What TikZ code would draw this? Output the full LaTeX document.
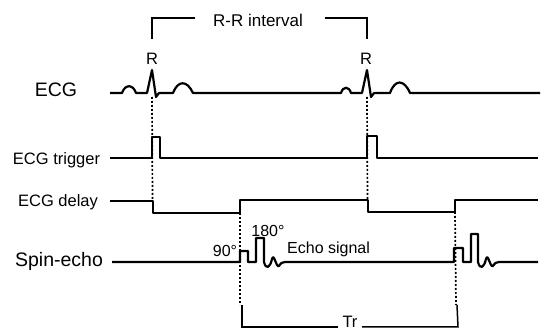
\documentclass[tikz,border=0pt]{standalone}
\usepackage{fontspec}
\setmainfont{Liberation Sans}
\begin{document}
\begin{tikzpicture}[x=1pt,y=-1pt,
  wave/.style={line width=2.2pt,line join=round},
  brk/.style={line width=1.5pt},
  dots/.style={line width=1.7pt,dash pattern=on 1.8pt off 2.2pt},
  lab/.style={inner sep=0pt,anchor=base}]
\useasboundingbox (0,0) rectangle (547,331);
% labels
\node[lab,font=\fontsize{19.5}{20}\selectfont] (lecg) at (56,97) {ECG};
\node[lab,font=\fontsize{16.5}{18}\selectfont] (ltrig) at (56.5,165) {ECG trigger};
\node[lab,font=\fontsize{16.5}{18}\selectfont] (ldel) at (58,207) {ECG delay};
\node[lab,font=\fontsize{19.5}{20}\selectfont] (lspin) at (59,267) {Spin-echo};
\node[lab,font=\fontsize{17}{18}\selectfont] (lrr) at (258,27) {R-R interval};
\node[lab,font=\fontsize{16.5}{18}\selectfont] (r1) at (152,65) {R};
\node[lab,font=\fontsize{16.5}{18}\selectfont] (r2) at (366,65) {R};
\node[lab,font=\fontsize{16}{18}\selectfont] (l90) at (225,257) {90°};
\node[lab,font=\fontsize{16}{18}\selectfont] (l180) at (268,237) {180°};
\node[lab,anchor=base west,font=\fontsize{16}{18}\selectfont] (lecho) at (287,254) {Echo signal};
\node[lab,font=\fontsize{16.5}{18}\selectfont] (ltr) at (350,328) {Tr};
% key coordinates
\coordinate (rp1) at (152,97);
\coordinate (rp2) at (367,97);
\coordinate (dd1) at (152.5,201);
\coordinate (dd2) at (367.5,200);
\coordinate (du1) at (240,213);
\coordinate (du2) at (455,212);
\coordinate (tl) at (242,305);
\coordinate (tr) at (457,305);
% ECG
\draw[wave] (110,93) -- (122,93) .. controls (125,84) and (133,84) .. (136,93)
  -- (147,93) -- (152,70) -- (156,97) -- (159,93) -- (173,93)
  .. controls (178,80) and (187,80) .. (193,93)
  -- (341,93) .. controls (343,86) and (349,86) .. (351,93)
  -- (362,93) -- (367,70) -- (371,97) -- (374,93) -- (390,93)
  .. controls (395,79) and (404,79) .. (410,93) -- (540,93);
% ECG trigger
\draw[wave] (110,158) -- (152,158) -- (152,137) -- (160,137) -- (160,158)
  -- (367,158) -- (367,136) -- (377,136) -- (377,158) -- (538,158);
% ECG delay
\draw[wave] (110,201) -- (153,201) -- (153,213) -- (240,213) -- (240,200)
  -- (368,200) -- (368,212) -- (455,212) -- (455,200) -- (538,200);
% Spin-echo
\draw[wave] (112,262) -- (240,262) -- (240,251) -- (248,251) -- (248,262)
  -- (256,262) -- (256,238) -- (264,238) -- (264,262)
  .. controls (266,270) and (270,268) .. (272,259)
  .. controls (274,252) and (276,268) .. (279,266)
  .. controls (281,263) and (282,262) .. (285,262)
  -- (454,262) -- (454,248) -- (463,248) -- (463,262)
  -- (471,262) -- (471,234) -- (478,234) -- (478,262)
  .. controls (480,270) and (484,268) .. (486,259)
  .. controls (488,252) and (490,268) .. (493,266)
  .. controls (495,263) and (496,262) .. (499,262) -- (538,262);
% dotted guides
\draw[dots] (rp1) -- (dd1);
\draw[dots] (rp2) -- (dd2);
\draw[dots] (du1) -- (240,305);
\draw[dots] (du2) -- (456,305);
% brackets
\draw[brk] (152,39) -- (152,18) -- (195,18);
\draw[brk] (325,18) -- (367,18) -- (367,39);
\draw[brk] (tl) -- (242,327) -- (338,327);
\draw[brk] (362,327) -- (458,327) -- (tr);
\end{tikzpicture}
\end{document}
